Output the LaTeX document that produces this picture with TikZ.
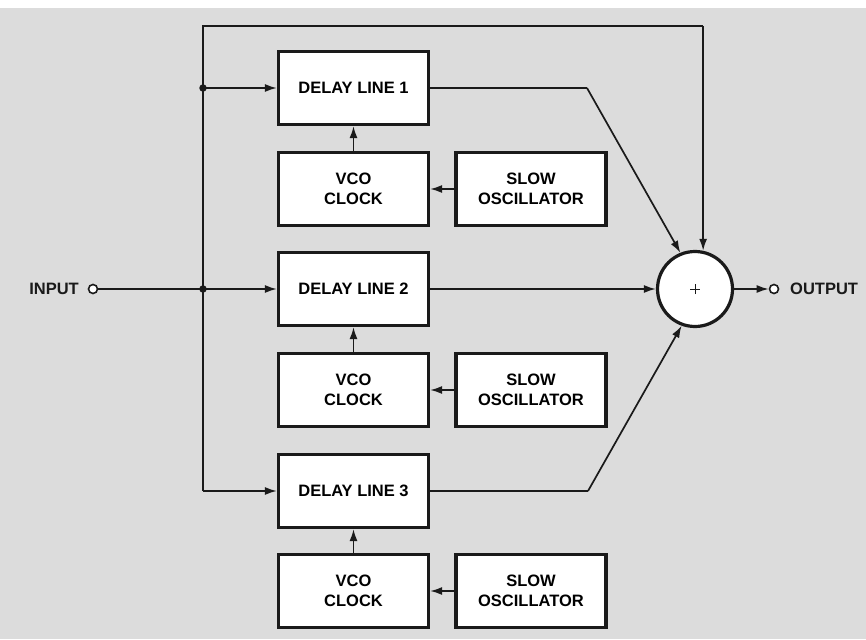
\documentclass[tikz,border=0pt]{standalone}
\usepackage{fontspec}
\setmainfont{Liberation Sans}
\usetikzlibrary{arrows.meta}
\definecolor{ink}{HTML}{1A1A1A}
\definecolor{bg}{HTML}{DCDCDC}
\begin{document}
\begin{tikzpicture}[x=1pt,y=-1pt,
  blk/.style={draw=ink, line width=3.2pt, fill=white, minimum width=150pt, minimum height=73pt,
    inner sep=0pt, align=center, font=\fontsize{16.5}{20}\selectfont\bfseries},
  wire/.style={draw=ink, line width=1.7pt},
  arr/.style={wire, -{Latex[length=12pt,width=8pt]}},
  port/.style={circle, draw=ink, line width=1.6pt, fill=white, minimum size=9pt, inner sep=0pt},
  lbl/.style={font=\fontsize{16.5}{20}\selectfont\bfseries, text=ink, inner sep=0pt},
  dot/.style={circle, fill=ink, minimum size=7.5pt, inner sep=0pt}
]
\fill[bg] (0,0) rectangle (866,639);
\fill[white] (0,0) rectangle (866,8);
\useasboundingbox (0,0) rectangle (866,639);

% blocks
\node[blk] (d1) at (353.5,88) {DELAY LINE 1};
\node[blk] (v1) at (353.5,189) {VCO\\CLOCK};
\node[blk] (s1) at (531,189) {SLOW\\OSCILLATOR};
\node[blk] (d2) at (353.5,289) {DELAY LINE 2};
\node[blk] (v2) at (353.5,390) {VCO\\CLOCK};
\node[blk] (s2) at (531,390) {SLOW\\OSCILLATOR};
\node[blk] (d3) at (353.5,491) {DELAY LINE 3};
\node[blk] (v3) at (353.5,591) {VCO\\CLOCK};
\node[blk] (s3) at (531,591) {SLOW\\OSCILLATOR};

% summing junction
\node[circle, draw=ink, line width=3.2pt, fill=white, minimum size=75pt, inner sep=0pt] (sum) at (695,289) {};
\draw[ink, line width=0.7pt] ([xshift=-5pt]sum.center) -- ([xshift=5pt]sum.center)
  ([yshift=-5pt]sum.center) -- ([yshift=5pt]sum.center);

% ports
\node[port] (in) at (93,289) {};
\node[lbl, anchor=east] (inl) at (79,289) {INPUT};
\node[port] (out) at (774,289) {};
\node[lbl, anchor=west] (outl) at (790,289) {OUTPUT};

% coordinates
\coordinate (tl) at (203,26);
\coordinate (tr) at (sum.78 |- tl);
\coordinate (j1) at (d1.west -| tl);
\coordinate (j2) at (d2.west -| tl);
\coordinate (b3) at (d3.west -| tl);
\coordinate (k1) at (d1.east -| 587,0);
\coordinate (k3) at (d3.east -| 588,0);

% bus
\draw[wire] (b3) -- (tl) -- (tr);
\draw[arr] (tr) -- (sum.78);
\draw[arr] (j1) -- (d1.west);
\draw[wire] (in) -- (j2);
\draw[arr] (j2) -- (d2.west);
\draw[arr] (b3) -- (d3.west);
\node[dot] at (j1) {};
\node[dot] at (j2) {};

% delay outputs
\draw[wire] (d1.east) -- (k1);
\draw[arr] (k1) -- (sum.112);
\draw[arr] (d2.east) -- (sum.west);
\draw[wire] (d3.east) -- (k3);
\draw[arr] (k3) -- (sum.250);
\draw[arr] (sum.east) -- (out.west);

% clocks
\draw[arr] (v1.north) -- (d1.south);
\draw[arr] (v2.north) -- (d2.south);
\draw[arr] (v3.north) -- (d3.south);
\draw[arr] (s1.west) -- (v1.east);
\draw[arr] (s2.west) -- (v2.east);
\draw[arr] (s3.west) -- (v3.east);
\end{tikzpicture}
\end{document}
